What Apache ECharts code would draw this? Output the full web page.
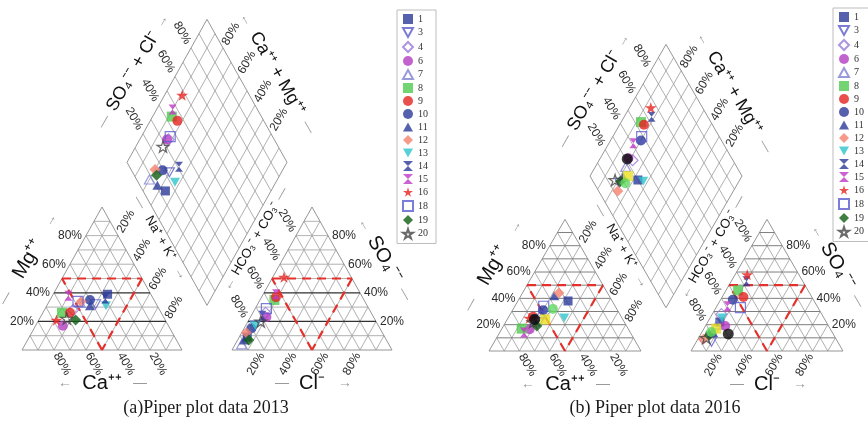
<!DOCTYPE html>
<html>
<head>
<meta charset="utf-8">
<script src="https://cdn.jsdelivr.net/npm/echarts@6/dist/echarts.min.js"></script>
<style>
html,body{margin:0;padding:0;background:#fff}
#c{width:868px;height:431px}
</style>
</head>
<body>
<div id="c"></div>
<script>
// ---- Sample ids and ionic composition (% of meq) ----
const samples2013 = ['1','3','4','6','7','8','9','10','11','12','13','14','15','16','18','19','20'];
const ca2013  = [27, 38, 54, 66, 47, 62, 57, 40, 42, 46, 32, 30, 52, 68, 48, 56, 61];
const mg2013  = [39, 32, 28, 17, 33, 26, 26, 35, 31, 34, 31, 36, 38, 21, 34, 21, 22];
const cl2013  = [5, 6, 8, 10, 4, 9, 9, 4.5, 4, 3, 6, 7, 8, 7, 7, 7, 8];
const so42013 = [9, 17, 26, 23, 4, 35, 37, 15, 7, 12, 17, 24, 39, 51, 29, 7, 20];

const samples2016 = ['1','3','4','6','7','8','9','10','11','12','13','14','15','16','18','19','20','2','5','17'];
const ca2016  = [29, 56, 48, 65, 52, 70, 58, 49, 36, 32, 38, 58, 70, 61, 47, 59, 60, 58, 51, 42];
const mg2016  = [38, 22, 30, 16.5, 28, 17, 26, 31, 42, 44, 25, 24, 14, 25, 34, 19, 22, 24, 24, 32];
const cl2016  = [8, 10, 6, 13, 7, 8, 14, 8, 7.5, 3.6, 8, 10, 7, 8, 16, 6, 5, 18, 8, 6];
const so42016 = [22, 7, 28, 19, 20, 46, 41, 39, 14, 9, 25, 53, 34, 58, 33, 12, 10, 13, 17, 14.5];

const legendIds = ['1','3','4','6','7','8','9','10','11','12','13','14','15','16','18','19','20'];
const tickPct = [20, 40, 60, 80];
const gridPct = [10, 20, 30, 40, 50, 60, 70, 80, 90];

// ---- Marker styles per sample ----
const STAR = 'path://M50,0L61,35L98,35L68,57L79,91L50,70L21,91L32,57L2,35L39,35Z';
const HOUR = 'path://M0,0H10L5,5L10,10H0L5,5Z';
const DTRI = 'path://M0,0H10L5,9Z';
const UTRI = 'path://M5,0L10,9H0Z';
const markerStyle = {
  '1':  {symbol:'rect', color:'#2b3a98', size:9},
  '2':  {symbol:'circle', color:'#0a0a0a', size:11},
  '3':  {symbol:DTRI, color:'#5b5bcc', size:10, open:true},
  '4':  {symbol:'diamond', color:'#9a7ad8', size:11, open:true},
  '5':  {symbol:'rect', color:'#e8e020', size:10},
  '6':  {symbol:'circle', color:'#b43cc2', size:10},
  '7':  {symbol:UTRI, color:'#7f7fd6', size:10, open:true},
  '8':  {symbol:'rect', color:'#4fca4f', size:10},
  '9':  {symbol:'circle', color:'#e3231f', size:10},
  '10': {symbol:'circle', color:'#2b3a98', size:10},
  '11': {symbol:UTRI, color:'#2b3a98', size:10},
  '12': {symbol:'diamond', color:'#f4826e', size:11},
  '13': {symbol:DTRI, color:'#2ec4cc', size:10},
  '14': {symbol:HOUR, color:'#2b3a98', size:[8,10]},
  '15': {symbol:HOUR, color:'#c23ac6', size:[8,10]},
  '16': {symbol:STAR, color:'#e8231f', size:12},
  '17': {symbol:'circle', color:'#62d862', size:10},
  '18': {symbol:'rect', color:'#5b5bd0', size:10, open:true},
  '19': {symbol:'diamond', color:'#0f5f12', size:11},
  '20': {symbol:STAR, color:'#444444', size:12, open:true}
};

// ---- Panel layout (pixel frame of each Piper diagram) ----
const H = Math.sqrt(3) / 2;
const panels = [
  {left:22, base:350, kx:1.6, ky:1.651, gap:31.25, darkLevels:[20,40], hColor:'#a8a8a8',
   caption:'(a)Piper plot data 2013', captionX:206,
   ids:samples2013, ca:ca2013, mg:mg2013, cl:cl2013, so4:so42013},
  {left:489, base:351, kx:1.52, ky:1.52, gap:32.9, darkLevels:[], hColor:'#707070',
   caption:'(b) Piper plot data 2016', captionX:655,
   ids:samples2016, ca:ca2016, mg:mg2016, cl:cl2016, so4:so42016}
];

function frame(P) {
  const G = P.gap, ax = 100 + G, B0 = [100 + G / 2, G * H];
  return {
    ax, B0,
    cat: (ca, mg) => [(100 - ca - mg) + mg / 2, mg * H],
    an: (cl, so4) => [ax + cl + so4 / 2, so4 * H],
    dia: (camg, sc) => [B0[0] + (sc - camg) / 2, B0[1] + (camg + sc) * H],
    px: (p) => [P.left + p[0] * P.kx, P.base - p[1] * P.ky],
    xMax: 200 + G,
    yMax: (200 + G) * H
  };
}

function segSeries(idx, segs, style, z) {
  return {
    type:'custom', coordinateSystem:'cartesian2d', xAxisIndex:idx, yAxisIndex:idx,
    data:segs, z:z, silent:true, animation:false, clip:false,
    encode:{x:[0,2], y:[1,3]},
    renderItem:function(params, api){
      const a = api.coord([api.value(0), api.value(1)]);
      const b = api.coord([api.value(2), api.value(3)]);
      return {type:'line', shape:{x1:a[0], y1:a[1], x2:b[0], y2:b[1]}, style:Object.assign({}, style)};
    }
  };
}

const grids = [], xAxes = [], yAxes = [], series = [], graphics = [];
const R60 = Math.PI / 3;
const SANS = 'Liberation Sans, Arial, sans-serif';

function text(x, y, str, o) {
  o = o || {};
  const size = o.size || 12;
  graphics.push({
    type:'text', x:x, y:y, rotation:o.rot || 0, silent:true, z:10,
    style:{
      text:str, fontSize:size, fontFamily:o.family || SANS, fill:o.color || '#2a2a2a',
      align:o.align || 'center', verticalAlign:'middle',
      textAlign:o.align || 'center', textVerticalAlign:'middle'
    }
  });
}

panels.forEach(function(P, idx) {
  const F = frame(P);
  grids.push({left:P.left, bottom:431 - P.base, width:F.xMax * P.kx, height:F.yMax * P.ky, containLabel:false});
  xAxes.push({type:'value', gridIndex:idx, min:0, max:F.xMax, show:false});
  yAxes.push({type:'value', gridIndex:idx, min:0, max:F.yMax, show:false});

  // grid lines of the two triangles and the diamond
  const light = [], horiz = [], dark = [], outline = [], red = [];
  [0, F.ax].forEach(function(x0) {
    gridPct.forEach(function(k) {
      const h = [x0 + k / 2, k * H, x0 + 100 - k / 2, k * H];
      (P.darkLevels.indexOf(k) >= 0 ? dark : horiz).push(h);
      light.push([x0 + k, 0, x0 + k + (100 - k) / 2, (100 - k) * H]);
      light.push([x0 + k, 0, x0 + k / 2, k * H]);
    });
    outline.push([x0, 0, x0 + 100, 0], [x0 + 100, 0, x0 + 50, 100 * H], [x0 + 50, 100 * H, x0, 0]);
    red.push([x0 + 25, 50 * H, x0 + 75, 50 * H], [x0 + 75, 50 * H, x0 + 50, 0], [x0 + 50, 0, x0 + 25, 50 * H]);
  });
  gridPct.forEach(function(k) {
    light.push(F.dia(k, 0).concat(F.dia(k, 100)));
    light.push(F.dia(0, k).concat(F.dia(100, k)));
  });
  const dB = F.dia(0, 0), dL = F.dia(100, 0), dT = F.dia(100, 100), dR = F.dia(0, 100);
  outline.push(dB.concat(dL), dL.concat(dT), dT.concat(dR), dR.concat(dB));

  series.push(segSeries(idx, light, {stroke:'#9c9c9c', lineWidth:0.8}, 1));
  series.push(segSeries(idx, horiz, {stroke:P.hColor, lineWidth:0.9}, 1));
  series.push(segSeries(idx, outline, {stroke:'#8a8a8a', lineWidth:0.9}, 1));
  series.push(segSeries(idx, dark, {stroke:'#303030', lineWidth:1.3}, 2));
  series.push(segSeries(idx, red, {stroke:'#e5302b', lineWidth:2.2, lineDash:[9, 6]}, 3));

  // samples: cation point, anion point, projected diamond point
  P.ids.forEach(function(id, i) {
    const ca = P.ca[i], mg = P.mg[i], cl = P.cl[i], so4 = P.so4[i];
    const st = markerStyle[id];
    series.push({
      type:'scatter', name:id, xAxisIndex:idx, yAxisIndex:idx, z:5, animation:false,
      symbol:st.symbol, symbolSize:st.size, symbolKeepAspect:true,
      itemStyle: st.open ? {color:'rgba(255,255,255,0)', borderColor:st.color, borderWidth:1.2}
                         : {color:st.color},
      data:[F.cat(ca, mg), F.an(cl, so4), F.dia(ca + mg, cl + so4)]
    });
  });

  // percent tick labels
  const at = (p, dx, dy) => { const q = F.px(p); return [q[0] + dx, q[1] + dy]; };
  tickPct.forEach(function(k) {
    const s = k + '%';
    let q;
    q = at([k / 2, k * H], -4, 0);                        text(q[0], q[1], s, {align:'right'});
    q = at([50 + k / 2, (100 - k) * H], 8, -14);          text(q[0], q[1], s, {rot:R60});
    q = at([100 - k, 0], 8, 14);                          text(q[0], q[1], s, {rot:-R60});
    q = at([F.ax + 100 - k / 2, k * H], 4, 0);            text(q[0], q[1], s, {align:'left'});
    q = at([F.ax + k, 0], -8, 14);                        text(q[0], q[1], s, {rot:R60});
    q = at([F.ax + (100 - k) / 2, (100 - k) * H], -9, -15); text(q[0], q[1], s, {rot:-R60});
    q = at(F.dia(100, k), -9, -15);                       text(q[0], q[1], s, {rot:-R60});
    q = at(F.dia(k, 100), 8, -14);                        text(q[0], q[1], s, {rot:R60});
  });

  // axis titles with their direction marks
  const UR = [0.5, -H], DR = [0.5, H];
  function title(p, nrm, dist, str, rot, size, dir, t, head, headRot) {
    const q = F.px(p);
    const c = [q[0] + nrm[0] * dist, q[1] + nrm[1] * dist];
    text(c[0], c[1], str, {rot:rot, size:size, color:'#111'});
    if (dir) {
      text(c[0] + dir[0] * t, c[1] + dir[1] * t, head, {rot:headRot, size:13, color:'#9a9a9a'});
      text(c[0] - dir[0] * t, c[1] - dir[1] * t, '—', {rot:headRot, size:13, color:'#9a9a9a'});
    }
  }
  const mid = (a, b) => [(a[0] + b[0]) / 2, (a[1] + b[1]) / 2];
  title([25, 50 * H], [-0.866, -0.5], 39, 'Mg⁺⁺', R60, 20, UR, 45, '→', R60);
  title([F.ax + 75, 50 * H], [0.866, -0.5], 38, 'SO₄⁻⁻', -R60, 20, DR, -40, '←', -R60);
  title(mid(dL, dT), [-0.866, -0.5], 39, 'SO₄⁻⁻ + Cl⁻', R60, 18, UR, 58, '→', R60);
  title(mid(dT, dR), [0.866, -0.5], 35, 'Ca⁺⁺ + Mg⁺⁺', -R60, 18, DR, -62, '←', -R60);
  title(mid(dB, dL), [-0.866, 0.5], 8, 'Na⁺ + K⁺', -R60, 13, DR, 41, '→', -R60);
  title(mid(dB, dR), [0.866, 0.5], 10, 'HCO₃⁻ + CO₃⁻', R60, 13, UR, -52, '←', R60);

  let q = F.px([50, 0]);
  text(q[0], q[1] + 33, 'Ca⁺⁺', {size:20, color:'#111'});
  text(q[0] - 37, q[1] + 33, '←', {size:14, color:'#9a9a9a'});
  text(q[0] + 38, q[1] + 33, '—', {size:14, color:'#9a9a9a'});
  q = F.px([F.ax + 50, 0]);
  text(q[0], q[1] + 33, 'Cl⁻', {size:20, color:'#111'});
  text(q[0] - 30, q[1] + 33, '—', {size:14, color:'#9a9a9a'});
  text(q[0] + 33, q[1] + 33, '→', {size:14, color:'#9a9a9a'});

  text(P.captionX, 408, P.caption, {size:18, family:'Liberation Serif, Times New Roman, serif', color:'#1a1a1a'});
});

const legendBase = {
  data:legendIds, orient:'vertical', itemWidth:10, itemHeight:10, itemGap:3,
  padding:[4, 8, 4, 5], borderColor:'#bdbdbd', borderWidth:1, backgroundColor:'#fff',
  selectedMode:false, textStyle:{fontSize:10, fontFamily:'Liberation Serif, serif', color:'#333'}
};

const chart = echarts.init(document.getElementById('c'));
chart.setOption({
  animation:false,
  backgroundColor:'#fff',
  grid:grids, xAxis:xAxes, yAxis:yAxes,
  legend:[Object.assign({left:397, top:10}, legendBase), Object.assign({left:833, top:8}, legendBase)],
  series:series,
  graphic:{elements:graphics}
});
</script>
</body>
</html>
